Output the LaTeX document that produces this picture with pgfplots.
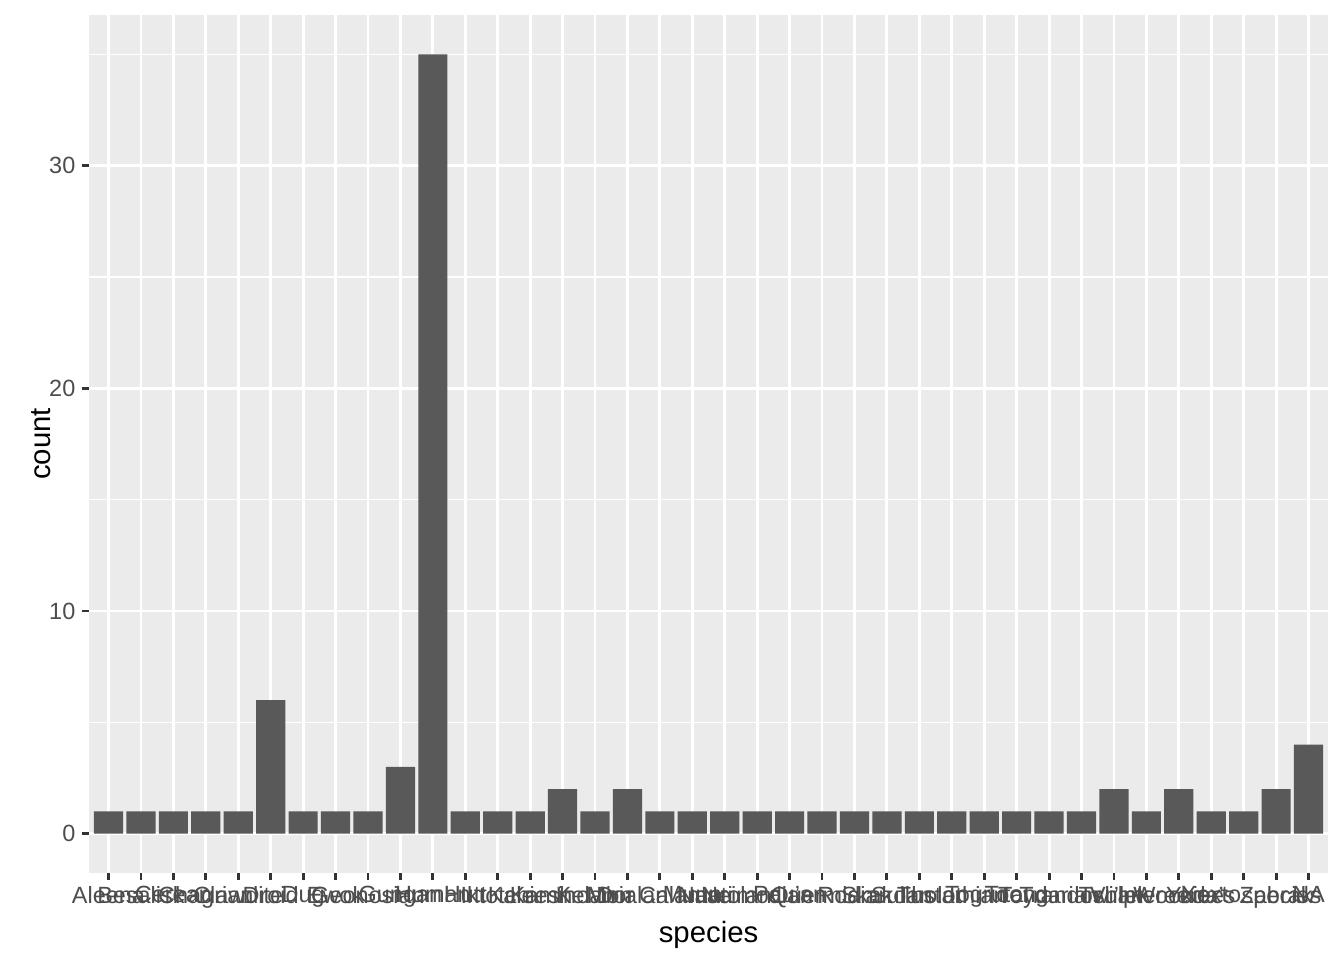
\documentclass[border=0pt]{standalone}
\usepackage{pgfplots}
\pgfplotsset{compat=1.18}
\usepackage{fontspec}
\setmainfont{Liberation Sans}
\definecolor{panelbg}{HTML}{EBEBEB}
\definecolor{barfill}{HTML}{595959}
\definecolor{ticklab}{HTML}{4D4D4D}
\definecolor{tickcol}{HTML}{333333}
\begin{document}
\begin{tikzpicture}
\useasboundingbox (0,0) rectangle (504pt,360pt);
\begin{axis}[
  at={(33.4pt,32.8pt)}, anchor=south west,
  scale only axis, width=464.6pt, height=321.4pt,
  xmin=0.4, xmax=38.6, ymin=-1.75, ymax=36.75,
  axis background/.style={fill=panelbg},
  axis line style={draw=none},
  tick pos=left, tick align=outside,
  major tick length=2.75pt,
  tick style={draw=tickcol, line width=1.07pt},
  xtick={1,...,38},
  xticklabels={Aleena,Besalisk,Cerean,Chagrian,Clawdite,Droid,Dug,Ewok,Geonosian,Gungan,Human,Hutt,Iktotchi,Kaleesh,Kaminoan,Kel Dor,Mirialan,Mon Calamari,Muun,Nautolan,Neimodian,Pau'an,Quermian,Rodian,Skakoan,Sullustan,Tholothian,Togruta,Toong,Toydarian,Trandoshan,Twi'lek,Vulptereen,Wookiee,Xexto,Yoda's species,Zabrak,NA},
  ytick={0,10,20,30},
  minor ytick={5,15,25,35},
  grid=both,
  major grid style={draw=white, line width=1.07pt},
  minor grid style={draw=white, line width=0.53pt},
  minor tick length=0pt,
  ticklabel style={font=\fontsize{8.8}{10}\selectfont, text=ticklab},
  xticklabel style={inner sep=0pt, yshift=-2.2pt, anchor=north},
  yticklabel style={inner sep=0pt, xshift=-2.2pt},
  /pgf/number format/assume math mode=true,
  xlabel={species}, ylabel={count},
  label style={font=\fontsize{11}{13}\selectfont, text=black},
  xlabel style={at={(0.5,0)}, anchor=north, yshift=-18pt, inner sep=0pt},
  ylabel style={at={(0,0.5)}, anchor=south, yshift=14pt, inner sep=0pt},
]
\addplot[ybar, bar width=0.9, fill=barfill, draw=none] coordinates {
(1,1)(2,1)(3,1)(4,1)(5,1)(6,6)(7,1)(8,1)(9,1)(10,3)
(11,35)(12,1)(13,1)(14,1)(15,2)(16,1)(17,2)(18,1)(19,1)(20,1)
(21,1)(22,1)(23,1)(24,1)(25,1)(26,1)(27,1)(28,1)(29,1)(30,1)
(31,1)(32,2)(33,1)(34,2)(35,1)(36,1)(37,2)(38,4)};
\end{axis}
\end{tikzpicture}
\end{document}
